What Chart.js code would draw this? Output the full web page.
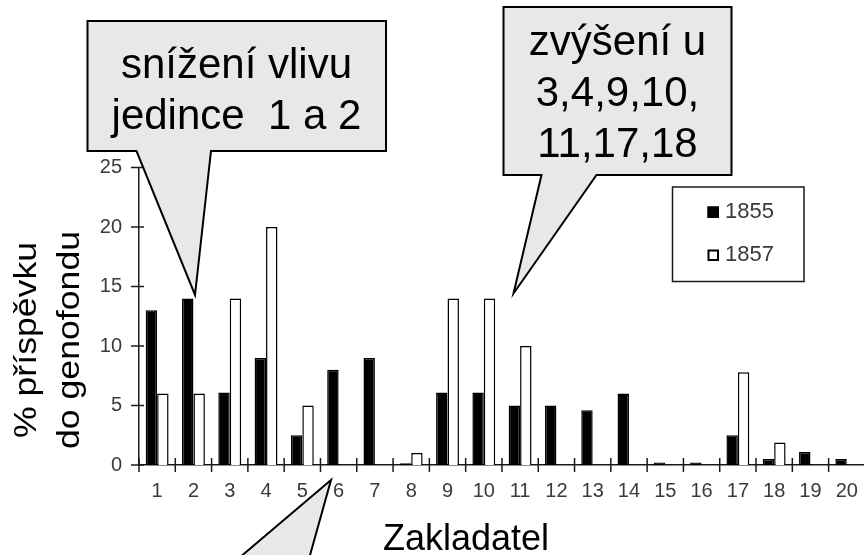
<!DOCTYPE html>
<html lang="cs">
<head>
<meta charset="utf-8">
<title>Příspěvek zakladatelů do genofondu</title>
<script src="https://cdn.jsdelivr.net/npm/chart.js@4.4.1/dist/chart.umd.min.js"></script>
<style>
  html, body { margin: 0; padding: 0; background: #fff; overflow: hidden; }
  #wrap { width: 872px; height: 555px; }
</style>
</head>
<body>
<div id="wrap"><canvas id="genofond" width="872" height="555"></canvas></div>
<script>
// Founders on the x axis
const zakladatele = ['1', '2', '3', '4', '5', '6', '7', '8', '9', '10',
                     '11', '12', '13', '14', '15', '16', '17', '18', '19', '20'];

// % contribution to the gene pool (null = no bar)
const podil1855 = [13, 14, 6.1, 9, 2.5, 8, 9, 0.15, 6.1, 6.1,
                   5, 5, 4.6, 6, 0.2, 0.2, 2.5, 0.5, 1.1, 0.5];
const podil1857 = [6, 6, 14, 20, 5, null, null, 1, 14, 14,
                   10, null, null, null, null, null, 7.8, 1.9, null, null];

const yTicks = [0, 5, 10, 15, 20, 25];

const yTitle = ['% příspěvku', 'do genofondu'];
const xTitle = 'Zakladatel';
const bublinaVliv = ['snížení vlivu', 'jedince  1 a 2'];
const bublinaZvyseni = ['zvýšení u', '3,4,9,10,', '11,17,18'];

const FONT = 'Arial, "Liberation Sans", Helvetica, sans-serif';
const LABEL = '#3a3a3a';
const AXIS = '#1a1a1a';

// speech bubble: box + pointer drawn as one outline
function bubble(ctx, b, p) {
    ctx.beginPath();
    ctx.moveTo(b.x1, b.y1);
    ctx.lineTo(b.x2, b.y1);
    ctx.lineTo(b.x2, b.y2);
    ctx.lineTo(p.r, b.y2);
    ctx.lineTo(p.tx, p.ty);
    ctx.lineTo(p.l, b.y2);
    ctx.lineTo(b.x1, b.y2);
    ctx.closePath();
    ctx.fillStyle = '#e8e8e8';
    ctx.fill();
    ctx.lineWidth = 2;
    ctx.strokeStyle = '#000';
    ctx.stroke();
}

function bubbleText(ctx, lines, cx, firstBaseline, step) {
    ctx.fillStyle = '#000';
    ctx.font = '42px ' + FONT;
    ctx.textAlign = 'center';
    ctx.textBaseline = 'alphabetic';
    lines.forEach((t, i) => ctx.fillText(t, cx, firstBaseline + i * step));
}

// tick marks that cross the axis lines
const crossTicks = {
    id: 'crossTicks',
    afterDatasetsDraw(chart) {
        const {ctx, chartArea, scales: {x, y}} = chart;
        ctx.save();
        ctx.strokeStyle = AXIS;
        ctx.lineWidth = 1.5;
        ctx.beginPath();
        y.ticks.forEach(t => {
            const py = y.getPixelForValue(t.value);
            ctx.moveTo(chartArea.left - 8, py);
            ctx.lineTo(chartArea.left + 5, py);
        });
        const half = (x.getPixelForValue(1) - x.getPixelForValue(0)) / 2;
        for (let i = 0; i <= zakladatele.length; i++) {
            const px = x.getPixelForValue(i) - half;
            ctx.moveTo(px, chartArea.bottom - 7);
            ctx.lineTo(px, chartArea.bottom + 7);
        }
        ctx.stroke();
        ctx.restore();
    }
};

// axis titles, boxed legend and the speech bubbles
const overlay = {
    id: 'overlay',
    afterDraw(chart) {
        const ctx = chart.ctx;
        ctx.save();

        // y title, two rotated lines
        ctx.fillStyle = '#000';
        ctx.font = '31px ' + FONT;
        ctx.textAlign = 'center';
        ctx.textBaseline = 'alphabetic';
        [35.5, 78.5].forEach((bx, i) => {
            ctx.save();
            ctx.translate(bx, 340);
            ctx.rotate(-Math.PI / 2);
            ctx.scale(1.15, 1);
            ctx.fillText(yTitle[i], 0, 0);
            ctx.restore();
        });

        // x title
        ctx.font = '36px ' + FONT;
        ctx.fillText(xTitle, 466, 550);

        // legend
        ctx.fillStyle = '#fff';
        ctx.fillRect(672.5, 187, 131.5, 94.5);
        ctx.strokeStyle = AXIS;
        ctx.lineWidth = 1.5;
        ctx.strokeRect(672.5, 187, 131.5, 94.5);
        chart.data.datasets.forEach((ds, i) => {
            const top = 206.5 + i * 43;
            ctx.fillStyle = ds.backgroundColor;
            ctx.fillRect(707.5, top, 11.5, 11.5);
            ctx.strokeStyle = ds.borderColor;
            ctx.lineWidth = 2;
            ctx.strokeRect(708.5, top + 1, 9.5, 9.5);
            ctx.fillStyle = LABEL;
            ctx.font = '22px ' + FONT;
            ctx.textAlign = 'left';
            ctx.fillText(ds.label, 725, top + 11.5);
        });

        // speech bubbles
        bubble(ctx, {x1: 87.5, y1: 21, x2: 386, y2: 151}, {l: 136.5, r: 211, tx: 195, ty: 295});
        bubbleText(ctx, bublinaVliv, 236.5, 77.5, 51);

        bubble(ctx, {x1: 503.5, y1: 7, x2: 731.5, y2: 175}, {l: 541.5, r: 596.5, tx: 513.5, ty: 293.5});
        bubbleText(ctx, bublinaZvyseni, 617.5, 55, 51);

        // pointer of a bubble that sits below the picture
        ctx.beginPath();
        ctx.moveTo(331, 480);
        ctx.lineTo(219, 575);
        ctx.lineTo(304.5, 575);
        ctx.closePath();
        ctx.fillStyle = '#e8e8e8';
        ctx.fill();
        ctx.lineWidth = 2;
        ctx.strokeStyle = '#000';
        ctx.stroke();

        ctx.restore();
    }
};

new Chart(document.getElementById('genofond'), {
    type: 'bar',
    data: {
        labels: zakladatele,
        datasets: [{
            label: '1855',
            data: podil1855,
            backgroundColor: '#000',
            borderColor: '#000',
            borderWidth: 1.5
        }, {
            label: '1857',
            data: podil1857,
            backgroundColor: '#fff',
            borderColor: '#000',
            borderWidth: 1.5
        }]
    },
    options: {
        responsive: false,
        animation: false,
        layout: { padding: { top: 167.5, right: 4.5, left: 0, bottom: 0 } },
        datasets: {
            bar: { categoryPercentage: 0.63, barPercentage: 1.0 }
        },
        plugins: {
            legend: { display: false },
            tooltip: { enabled: false }
        },
        scales: {
            x: {
                offset: true,
                grid: { display: false, drawTicks: false },
                border: { display: true, color: AXIS, width: 1.5 },
                ticks: {
                    color: LABEL,
                    font: { family: FONT, size: 20 },
                    padding: 14,
                    maxRotation: 0,
                    autoSkip: false
                },
                afterFit: s => { s.height = 90; }
            },
            y: {
                min: 0,
                max: 25,
                grid: { display: false, drawTicks: false },
                border: { display: true, color: AXIS, width: 1.5 },
                ticks: {
                    color: LABEL,
                    font: { family: FONT, size: 20 },
                    padding: 17
                },
                afterBuildTicks: s => { s.ticks = yTicks.map(v => ({ value: v })); },
                afterFit: s => { s.width = 139; }
            }
        }
    },
    plugins: [crossTicks, overlay]
});
</script>
</body>
</html>
